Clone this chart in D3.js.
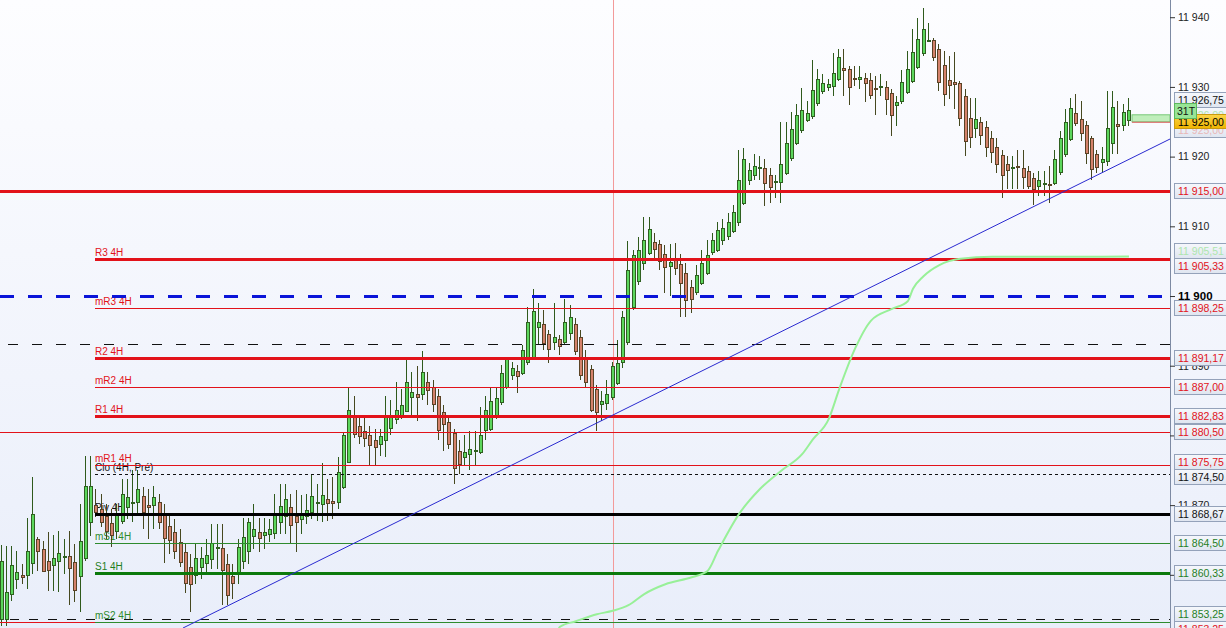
<!DOCTYPE html>
<html><head><meta charset="utf-8">
<script src="https://cdn.jsdelivr.net/npm/d3@7"></script>
<style>html,body{margin:0;padding:0;overflow:hidden;background:#fff}</style>
</head><body>
<svg id="c" width="1226" height="628"></svg>
<script>
// ---------- DATA ----------
const openV=[11853.7,11853.7,11857.3,11859.4,11860.0,11859.9,11861.7,11865.1,11863.7,11862.0,11861.4,11862.0,11862.6,11862.7,11861.9,11859.9,11862.4,11867.6,11870.0,11869.4,11868.4,11867.4,11866.3,11867.7,11869.7,11870.4,11870.4,11871.3,11870.0,11869.9,11870.4,11868.6,11867.0,11866.1,11864.7,11863.3,11861.1,11859.9,11861.1,11861.7,11862.3,11863.9,11863.9,11861.6,11859.9,11860.4,
11862.0,11863.4,11865.6,11866.1,11865.6,11865.9,11866.1,11867.6,11868.4,11869.7,11868.4,11868.0,11868.4,11869.0,11870.3,11870.1,11870.9,11870.6,11870.4,11872.6,11876.3,11882.6,11881.3,11880.6,11880.0,11879.4,11878.7,11879.4,11881.1,11882.3,11882.7,11883.6,11885.6,11886.0,11885.9,11887.6,11887.0,11885.6,11883.3,11881.9,11880.3,11877.7,11876.9,11877.3,11877.7,11877.7,
11880.9,11880.9,11883.0,11884.9,11886.9,11888.7,11889.3,11889.0,11890.6,11891.3,11895.6,11896.0,11894.6,11893.4,11893.9,11893.4,11894.7,11896.0,11894.1,11891.1,11889.6,11886.6,11884.6,11884.7,11885.4,11887.6,11890.6,11893.3,11898.4,11902.1,11904.7,11906.1,11907.7,11907.4,11906.1,11904.3,11905.1,11904.6,11903.3,11901.3,11900.6,11901.9,11903.3,11906.3,11906.6,11908.0,11908.6,11909.4,
11910.6,11913.4,11916.6,11917.4,11918.3,11918.3,11917.3,11916.4,11916.3,11917.6,11919.7,11921.9,11923.9,11925.3,11925.9,11927.7,11929.4,11930.0,11930.1,11931.1,11932.7,11932.6,11931.3,11931.1,11931.3,11931.0,11929.9,11929.9,11930.0,11929.1,11927.4,11928.0,11929.3,11930.9,11932.9,11934.9,11936.7,11936.7,11935.4,11933.1,11931.0,11930.7,
11930.6,11928.7,11925.6,11924.1,11924.9,11924.3,11922.6,11921.4,11920.3,11918.9,11918.4,11918.6,11918.4,11918.0,11916.9,11915.9,11916.1,11916.1,11916.1,11917.7,11920.3,11922.6,11926.3,11925.4,11924.6,11922.6,11920.4,11919.1,11919.4,11921.9,11924.7,11924.6,11925.3];
const highV=[11864.3,11864.1,11864.1,11863.4,11861.6,11868.1,11874.1,11865.4,11864.9,11866.1,11865.7,11866.3,11865.1,11866.3,11864.4,11870.1,11877.1,11877.1,11872.3,11871.6,11870.1,11869.4,11870.1,11873.7,11873.7,11875.0,11875.1,11872.6,11872.3,11872.7,11871.6,11870.1,11868.7,11868.0,11866.6,11864.4,11863.0,11864.4,11864.0,11865.1,11867.3,11867.3,11867.3,11863.0,11861.6,11865.1,
11868.1,11868.1,11870.1,11868.1,11868.1,11868.0,11871.6,11873.1,11873.1,11871.6,11872.1,11871.4,11871.6,11874.3,11873.0,11876.0,11873.7,11874.0,11876.9,11880.5,11887.0,11885.6,11882.7,11882.7,11881.3,11880.9,11880.9,11885.6,11885.1,11887.6,11886.6,11891.0,11889.1,11889.9,11892.1,11889.1,11888.0,11886.6,11884.4,11883.0,11880.9,11879.4,11880.0,11880.6,11880.6,11884.1,
11885.6,11887.0,11887.0,11890.1,11891.3,11890.6,11890.1,11893.0,11898.4,11901.0,11899.0,11898.0,11895.1,11899.0,11894.4,11899.6,11898.7,11896.9,11895.1,11892.3,11890.1,11887.3,11886.4,11888.0,11890.6,11893.7,11897.9,11907.9,11906.6,11908.4,11911.3,11911.3,11909.0,11908.0,11907.3,11907.5,11907.6,11906.0,11904.7,11902.3,11904.4,11906.6,11908.0,11909.0,11910.6,11911.0,11911.9,11913.0,
11920.9,11921.3,11919.1,11920.4,11920.1,11919.7,11918.3,11917.3,11924.9,11924.9,11926.4,11927.6,11929.9,11928.0,11933.9,11932.6,11931.9,11931.1,11934.9,11935.4,11935.4,11933.0,11933.0,11933.0,11932.0,11932.0,11931.6,11931.9,11930.9,11929.7,11928.7,11932.4,11935.1,11938.3,11939.9,11941.3,11939.1,11937.0,11936.1,11935.1,11934.4,11935.0,
11930.9,11929.7,11928.4,11928.4,11925.7,11925.1,11923.7,11922.7,11920.9,11920.1,11920.1,11921.0,11921.0,11918.7,11917.7,11918.0,11918.0,11918.6,11920.9,11923.7,11926.9,11928.4,11929.0,11928.0,11925.1,11923.0,11920.9,11921.4,11929.4,11929.4,11928.0,11927.6,11928.4];
const lowV=[11852.6,11852.6,11856.3,11858.0,11858.7,11858.0,11860.1,11860.6,11860.4,11857.7,11857.7,11857.6,11860.1,11855.6,11856.1,11854.7,11862.0,11865.6,11868.3,11866.9,11865.1,11864.0,11865.1,11867.3,11868.0,11867.6,11868.7,11866.6,11865.1,11866.6,11866.6,11861.7,11863.0,11862.3,11861.1,11857.4,11854.7,11858.7,11859.4,11860.1,11860.9,11860.9,11855.6,11855.7,11856.6,11858.7,
11860.9,11861.6,11863.7,11863.3,11863.7,11864.7,11865.1,11865.9,11865.9,11864.6,11863.3,11865.9,11867.3,11868.0,11867.7,11867.6,11867.7,11868.0,11869.4,11872.3,11876.0,11879.7,11878.7,11878.3,11875.7,11875.6,11877.0,11876.9,11880.1,11881.6,11882.3,11883.3,11883.0,11882.1,11885.1,11884.4,11883.4,11879.4,11877.7,11878.0,11873.1,11874.4,11875.7,11875.1,11875.6,11877.3,
11879.4,11880.6,11882.3,11884.4,11886.6,11888.0,11886.1,11888.7,11890.1,11890.9,11893.0,11892.3,11890.4,11892.3,11891.6,11893.0,11893.7,11891.6,11888.0,11887.0,11883.3,11880.7,11882.0,11883.7,11885.1,11887.3,11889.7,11893.0,11898.0,11901.6,11903.7,11905.9,11905.4,11903.7,11900.4,11900.0,11903.0,11897.0,11897.0,11897.6,11900.1,11901.6,11903.0,11905.9,11906.3,11907.3,11908.0,11909.1,
11910.1,11913.0,11915.9,11916.6,11916.6,11912.9,11913.4,11914.0,11913.4,11917.3,11919.4,11921.6,11923.4,11924.9,11925.4,11927.3,11929.0,11929.4,11928.7,11930.9,11928.7,11927.4,11930.1,11929.7,11927.9,11928.3,11925.9,11928.7,11925.9,11922.9,11924.4,11927.6,11929.0,11930.6,11932.6,11934.4,11936.4,11933.7,11929.4,11927.3,11928.3,11926.9,
11924.4,11920.1,11921.3,11922.7,11921.6,11920.0,11919.1,11917.6,11914.0,11915.4,11915.4,11915.4,11915.4,11915.4,11913.0,11914.4,11914.4,11913.4,11915.9,11917.3,11919.9,11922.3,11924.4,11922.3,11919.0,11916.6,11917.6,11917.6,11918.7,11920.4,11920.4,11923.7,11924.4];
const closeV=[11862.0,11857.6,11861.4,11860.4,11859.7,11863.4,11868.7,11863.4,11860.6,11860.7,11862.4,11863.1,11862.7,11861.0,11857.9,11864.9,11872.7,11872.7,11869.0,11867.6,11866.3,11865.7,11868.7,11871.6,11871.1,11870.5,11872.3,11869.0,11869.7,11871.1,11867.6,11865.3,11865.0,11863.4,11861.9,11858.9,11858.6,11862.4,11862.4,11862.9,11864.6,11864.0,11860.7,11857.1,11858.9,11864.0,
11865.4,11867.6,11866.6,11865.3,11866.1,11866.6,11868.9,11869.9,11870.9,11867.1,11867.6,11868.7,11869.3,11871.3,11870.5,11871.4,11870.3,11870.3,11874.7,11880.0,11883.7,11880.1,11879.9,11879.6,11878.6,11878.4,11879.9,11882.7,11882.7,11883.6,11884.4,11887.7,11886.3,11885.6,11889.1,11886.4,11884.6,11880.7,11881.6,11878.7,11875.3,11875.9,11877.6,11878.0,11877.9,11880.1,
11883.7,11884.9,11885.4,11889.0,11890.9,11889.7,11888.6,11892.3,11896.3,11897.9,11896.3,11893.3,11892.4,11894.1,11892.9,11896.3,11897.0,11892.1,11888.7,11887.7,11883.7,11883.3,11885.0,11886.0,11889.9,11890.4,11897.0,11903.7,11905.9,11906.6,11908.0,11909.6,11906.7,11904.9,11904.3,11904.9,11904.0,11901.9,11899.4,11899.6,11903.0,11904.7,11905.9,11908.0,11909.4,11909.7,11910.6,11912.1,
11916.6,11919.7,11918.1,11918.7,11918.5,11916.1,11915.6,11916.5,11918.9,11921.9,11923.9,11925.9,11926.7,11926.3,11929.6,11931.1,11930.6,11930.4,11932.0,11934.3,11932.4,11930.0,11931.25,11931.4,11930.6,11928.9,11929.85,11930.1,11928.3,11925.9,11927.9,11930.7,11932.6,11935.0,11936.9,11938.3,11936.75,11934.3,11930.7,11929.0,11930.3,11930.4,
11925.6,11922.3,11922.9,11925.4,11923.1,11921.4,11920.6,11919.0,11917.4,11918.0,11918.5,11918.5,11917.1,11915.9,11915.3,11916.7,11916.25,11916.0,11919.6,11922.6,11924.9,11927.0,11924.9,11923.4,11920.6,11918.1,11918.6,11919.6,11924.1,11927.1,11924.4,11926.4,11926.7];

const tickValues=[11850,11860,11870,11880,11890,11900,11910,11920,11930,11940];
const boldTick=11900;

const pivotNames=["R3 4H","mR3 4H","R2 4H","mR2 4H","R1 4H","mR1 4H","Clo (4H, Pré)","Piv 4H","mS1 4H","S1 4H","mS2 4H"];
const pivotValues=[11905.33,11898.25,11891.17,11887.00,11882.83,11875.75,11874.50,11868.67,11864.50,11860.33,11853.25];
const pivotKinds=["R","mR","R","mR","R","mR","clo","piv","mS","S","mS"];

const fullLineValues=[11915.00,11900.00,11880.50,11893.14,11853.60,11853.25];
const fullLineKinds=["redThick","blueDash","redThin","blackDash","blackDash2","redThinShort"];

const maIndex=[105,106,109,113,116,119,122,126,131,134,136,140,144,148,152,154,157,159,162,165,169,172,173,175,178,182,188,199,209,214];
const maValues=[11850.5,11852.4,11853.2,11854.2,11854.7,11855.5,11857.1,11858.5,11859.5,11860.4,11863.3,11868.6,11872.2,11874.8,11877.2,11879.3,11882.2,11886.5,11892.3,11896.3,11898.0,11899.1,11900.9,11902.7,11904.3,11905.2,11905.5,11905.5,11905.5,11905.51];

const trendIndex=[34.45,221.8];
const trendValues=[11852.37,11922.53];
const cursorIndex=116;

// price boxes on the axis
const boxValues=[11926.75,11926.00,11925.00,11915.00,11905.51,11905.33,11898.25,11891.17,11887.00,11882.83,11880.50,11875.75,11874.50,11868.67,11864.50,11860.33,11853.25,11853.25];
const boxKinds=["black","fadeGreen","fadeRed","red","fadeGreen","red","red","red","red","red","red","red","black","black","green","green","green","red"];
const lastPrice=11925.00;
const bandValues=[11925.00,11926.00];
const timerText="31T";

// ---------- CHART ----------
const W=1226,H=628,AX=1170;
const FONT="Liberation Sans, Arial, sans-serif";
const svg=d3.select("#c");
const defs=svg.append("defs");
const bg=defs.append("linearGradient").attr("id","bg").attr("x1",0).attr("y1",0).attr("x2",0).attr("y2",1);
bg.append("stop").attr("offset","0%").attr("stop-color","#fdfdff");
bg.append("stop").attr("offset","100%").attr("stop-color","#e9eefa");
const bx=defs.append("linearGradient").attr("id","bx").attr("x1",0).attr("y1",0).attr("x2",0).attr("y2",1);
bx.append("stop").attr("offset","0%").attr("stop-color","#f6f8fc");
bx.append("stop").attr("offset","100%").attr("stop-color","#dfe5f0");
const yb=defs.append("linearGradient").attr("id","yb").attr("x1",0).attr("y1",0).attr("x2",0).attr("y2",1);
yb.append("stop").attr("offset","0%").attr("stop-color","#fbd54a");
yb.append("stop").attr("offset","100%").attr("stop-color","#f0b400");
defs.append("clipPath").attr("id","plot").append("rect").attr("x",0).attr("y",0).attr("width",AX).attr("height",H);

svg.append("rect").attr("width",W).attr("height",H).attr("fill","url(#bg)");

const N=openV.length;
const x=d3.scaleLinear().domain([0,N-1]).range([1.5,1129]);
const y=d3.scaleLinear().domain([11852.37,11942.47]).range([H,0]);

const plot=svg.append("g").attr("clip-path","url(#plot)");

// cursor line
plot.append("line").attr("x1",Math.round(x(cursorIndex))+0.5).attr("x2",Math.round(x(cursorIndex))+0.5)
  .attr("y1",0).attr("y2",H).attr("stroke","#f39a9a").attr("stroke-width",1).attr("shape-rendering","crispEdges");

// pivot text labels
const kindColor={R:"#e2121a",mR:"#e2121a",clo:"#111",piv:"#111",mS:"#2e8b2e",S:"#1f7f1f"};
const LX=95;
plot.selectAll("text.pv").data(pivotValues).join("text")
  .attr("x",LX).attr("y",d=>y(d)-3)
  .attr("font-family",FONT).attr("font-size","10px")
  .attr("fill",(d,i)=>kindColor[pivotKinds[i]]).text((d,i)=>pivotNames[i]);

// candles
const cg=plot.append("g");
const idx=d3.range(N);
cg.selectAll("line.w").data(idx).join("line")
  .attr("x1",i=>Math.round(x(i)-2)+1.5).attr("x2",i=>Math.round(x(i)-2)+1.5)
  .attr("y1",i=>y(highV[i])).attr("y2",i=>y(lowV[i]))
  .attr("stroke",i=>closeV[i]>=openV[i]?"#2f5a1c":"#46481f").attr("stroke-width",1).attr("shape-rendering","crispEdges");
cg.selectAll("rect.b").data(idx).join("rect")
  .attr("x",i=>Math.round(x(i)-2)+0.5)
  .attr("y",i=>Math.round(y(Math.max(openV[i],closeV[i])))+0.5)
  .attr("width",3)
  .attr("height",i=>Math.max(1,Math.round(Math.abs(y(openV[i])-y(closeV[i])))))
  .attr("fill",i=>closeV[i]>=openV[i]?"#5cd65c":"#d4826b")
  .attr("stroke",i=>closeV[i]>=openV[i]?"#2f6020":"#5b4326").attr("stroke-width",1).attr("shape-rendering","crispEdges");

// full-width lines
const fullStyle={
  redThick:{c:"#e2121a",w:3,dash:null,x0:0},
  blueDash:{c:"#0a14d8",w:3,dash:"14,14",x0:0},
  redThin:{c:"#e2121a",w:1,dash:null,x0:0},
  blackDash:{c:"#111",w:1,dash:"10,14",x0:8},
  blackDash2:{c:"#111",w:1,dash:"9,10",x0:10},
  redThinShort:{c:"#e2121a",w:1,dash:null,x0:0,x1:LX}
};
const pivStyle={
  R:{c:"#e2121a",w:3,dash:null},mR:{c:"#e2121a",w:1,dash:null},
  clo:{c:"#111",w:1,dash:"3,3"},piv:{c:"#000",w:3,dash:null},
  mS:{c:"#2e8b2e",w:1,dash:null},S:{c:"#0c7a0c",w:3,dash:null}
};
function yy(v,w){const p=Math.round(y(v));return w%2?p+0.5:p;}
plot.selectAll("line.fl").data(fullLineValues).join("line")
  .attr("x1",(d,i)=>fullStyle[fullLineKinds[i]].x0)
  .attr("x2",(d,i)=>fullStyle[fullLineKinds[i]].x1||AX+5)
  .attr("y1",(d,i)=>yy(d,fullStyle[fullLineKinds[i]].w)).attr("y2",(d,i)=>yy(d,fullStyle[fullLineKinds[i]].w))
  .attr("stroke",(d,i)=>fullStyle[fullLineKinds[i]].c).attr("stroke-width",(d,i)=>fullStyle[fullLineKinds[i]].w)
  .attr("stroke-dasharray",(d,i)=>fullStyle[fullLineKinds[i]].dash).attr("shape-rendering","crispEdges");
plot.selectAll("line.pl").data(pivotValues).join("line")
  .attr("x1",LX).attr("x2",AX+5)
  .attr("y1",(d,i)=>yy(d,pivStyle[pivotKinds[i]].w)).attr("y2",(d,i)=>yy(d,pivStyle[pivotKinds[i]].w))
  .attr("stroke",(d,i)=>pivStyle[pivotKinds[i]].c).attr("stroke-width",(d,i)=>pivStyle[pivotKinds[i]].w)
  .attr("stroke-dasharray",(d,i)=>pivStyle[pivotKinds[i]].dash).attr("shape-rendering","crispEdges");

// moving average (on top of level lines)
plot.append("path").datum(maIndex.map((d,i)=>[d,maValues[i]]))
  .attr("d",d3.line().x(d=>x(d[0])).y(d=>y(d[1])-1).curve(d3.curveMonotoneX))
  .attr("fill","none").attr("stroke","#98f098").attr("stroke-width",2);

// trendline
plot.append("line").attr("x1",x(trendIndex[0])).attr("y1",y(trendValues[0]))
  .attr("x2",x(trendIndex[1])).attr("y2",y(trendValues[1]))
  .attr("stroke","#2a2ad0").attr("stroke-width",1);

// current price band
const bandX0=x(N-1)+3;
plot.append("rect").attr("x",bandX0).attr("y",y(bandValues[1])).attr("width",AX-bandX0)
  .attr("height",y(bandValues[0])-y(bandValues[1])).attr("fill","#bfeebb").attr("stroke","#78c878").attr("stroke-width",1);
plot.append("line").attr("x1",bandX0).attr("x2",AX).attr("y1",y(lastPrice)+0.5).attr("y2",y(lastPrice)+0.5)
  .attr("stroke","#e06060").attr("stroke-width",1);

// price box layout (collision avoidance)
const items=boxValues.map((v,i)=>({v,k:boxKinds[i],t:y(v)})).sort((a,b)=>a.t-b.t);
const GAP=15;
for(let it=0;it<200;it++){for(let i=1;i<items.length;i++){const o=GAP-(items[i].t-items[i-1].t);if(o>0){items[i-1].t-=o/2;items[i].t+=o/2;}}}

// axis
const loc=d3.formatLocale({decimal:",",thousands:" ",grouping:[3],currency:["",""]});
const f0=loc.format(",.0f"), f2=loc.format(",.2f");
const axis=d3.axisRight(y).tickValues(tickValues).tickSize(5).tickPadding(3).tickFormat(f0);
const ag=svg.append("g").attr("transform",`translate(${AX},0)`).call(axis);
ag.select(".domain").attr("stroke","#7d8aa3").attr("d",`M0.5,0V${H}`);
ag.selectAll(".tick line").attr("stroke","#333");
ag.selectAll(".tick text").attr("font-family",FONT)
  .attr("font-weight",d=>d===boldTick?"bold":"normal").style("font-size",d=>d===boldTick?"11.5px":"10.5px")
  .attr("fill",d=>d===boldTick?"#000":"#222")
  // a tick label that lies fully under a price box is not visible
  .style("display",d=>(y(d)>H||items.some(b=>Math.abs(b.t-y(d))<5))?"none":null);

// price boxes
const boxColor={black:"#111",red:"#e2121a",green:"#1f7f1f",fadeGreen:"#aee6ae",fadeRed:"#e8b8b8"};
const bgp=svg.append("g");
items.forEach(d=>{
  const g=bgp.append("g").attr("transform",`translate(0,${Math.round(d.t)})`);
  g.append("rect").attr("x",1174.5).attr("y",-7.5).attr("width",60).attr("height",15)
    .attr("fill","url(#bx)").attr("stroke","#94a2ba").attr("stroke-width",1);
  g.append("text").attr("x",1178).attr("y",4).attr("font-family",FONT)
    .attr("font-size","10.5px").attr("fill",boxColor[d.k]).text(f2(d.v));
});
// last price (yellow) box
const ly=Math.round(y(lastPrice));
const lg=svg.append("g").attr("transform",`translate(0,${ly})`);
lg.append("rect").attr("x",1174.5).attr("y",-7.5).attr("width",60).attr("height",14).attr("fill","url(#yb)").attr("stroke","#c99a10");
lg.append("text").attr("x",1178).attr("y",4).attr("font-family",FONT).attr("font-size","10.5px").attr("fill","#000").text(f2(lastPrice));
// timer box
const tg=svg.append("g").attr("transform",`translate(0,${Math.round(y(bandValues[1]))-4})`);
tg.append("rect").attr("x",1174.5).attr("y",-7.5).attr("width",22).attr("height",15).attr("fill","#98e496").attr("stroke","#5cb85c");
tg.append("text").attr("x",1177).attr("y",4).attr("font-family",FONT).attr("font-size","10.5px").attr("fill","#111").text(timerText);
</script>
</body></html>
